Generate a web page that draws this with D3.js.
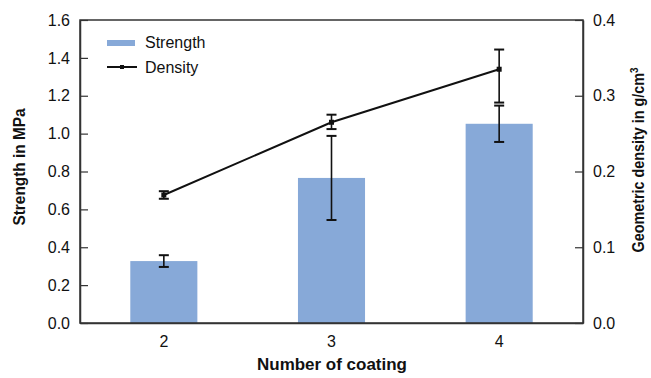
<!DOCTYPE html>
<html>
<head>
<meta charset="utf-8">
<script src="https://cdn.jsdelivr.net/npm/d3@7"></script>
<style>
  body { margin: 0; background: #fff; }
  text { font-family: "Liberation Sans", Arial, sans-serif; fill: #111; }
</style>
</head>
<body>
<script>
var coatings = ['2', '3', '4'];
var strength = [0.327, 0.766, 1.052];
var strengthErr = [0.031, 0.222, 0.096];
var density = [0.169, 0.265, 0.335];
var densityErrUp = [0.005, 0.010, 0.026];
var densityErrDown = [0.005, 0.009, 0.044];
var leftTicks = [0, 0.2, 0.4, 0.6, 0.8, 1.0, 1.2, 1.4, 1.6];
var rightTicks = [0, 0.1, 0.2, 0.3, 0.4];

var screen = { width: 651, height: 378 };
var margins = { top: 20, left: 80, bottom: 55, right: 68 };
var width = screen.width - margins.left - margins.right;
var height = screen.height - margins.top - margins.bottom;

var svg = d3.select('body')
            .append('svg')
            .attr('width', screen.width)
            .attr('height', screen.height);

var plot = svg.append('g')
              .attr('transform', 'translate(' + margins.left + ',' + margins.top + ')');

var xScale = d3.scaleBand()
               .domain(coatings)
               .range([0, width])
               .paddingInner(0.6)
               .paddingOuter(0.3);

var yLeft = d3.scaleLinear().domain([0, 1.6]).range([height, 0]);
var yRight = d3.scaleLinear().domain([0, 0.4]).range([height, 0]);

// bars
plot.selectAll('rect.bar')
    .data(strength)
    .enter()
    .append('rect')
    .classed('bar', true)
    .attr('x', function(d, i){ return xScale(coatings[i]); })
    .attr('y', function(d){ return yLeft(d); })
    .attr('width', xScale.bandwidth())
    .attr('height', function(d){ return height - yLeft(d); })
    .attr('fill', '#87a9d8');

var cx = function(i){ return xScale(coatings[i]) + xScale.bandwidth() / 2; };
var capW = 5;

var errorBars = function(lo, hi, cls){
  var g = plot.selectAll('g.' + cls)
              .data(d3.range(coatings.length))
              .enter()
              .append('g')
              .classed(cls, true)
              .attr('stroke', '#111')
              .attr('stroke-width', 1.6);
  g.append('line')
   .attr('x1', cx).attr('x2', cx)
   .attr('y1', function(i){ return lo(i); })
   .attr('y2', function(i){ return hi(i); });
  g.append('line')
   .attr('x1', function(i){ return cx(i) - capW; })
   .attr('x2', function(i){ return cx(i) + capW; })
   .attr('y1', function(i){ return lo(i); })
   .attr('y2', function(i){ return lo(i); })
   .attr('stroke-width', 2);
  g.append('line')
   .attr('x1', function(i){ return cx(i) - capW; })
   .attr('x2', function(i){ return cx(i) + capW; })
   .attr('y1', function(i){ return hi(i); })
   .attr('y2', function(i){ return hi(i); })
   .attr('stroke-width', 2);
};

errorBars(function(i){ return yLeft(strength[i] - strengthErr[i]); },
          function(i){ return yLeft(strength[i] + strengthErr[i]); }, 'serr');

// density line
var line = d3.line()
             .x(function(d, i){ return cx(i); })
             .y(function(d){ return yRight(d); });

plot.append('path')
    .datum(density)
    .attr('d', line)
    .attr('fill', 'none')
    .attr('stroke', '#111')
    .attr('stroke-width', 2);

errorBars(function(i){ return yRight(density[i] - densityErrDown[i]); },
          function(i){ return yRight(density[i] + densityErrUp[i]); }, 'derr');

plot.selectAll('rect.pt')
    .data(density)
    .enter()
    .append('rect')
    .classed('pt', true)
    .attr('x', function(d, i){ return cx(i) - 2.5; })
    .attr('y', function(d){ return yRight(d) - 2.5; })
    .attr('width', 5)
    .attr('height', 5)
    .attr('fill', '#111');

// frame
plot.append('rect')
    .attr('width', width)
    .attr('height', height)
    .attr('fill', 'none')
    .attr('stroke', '#333')
    .attr('stroke-width', 1.5);

// axes
var leftAxis = d3.axisLeft(yLeft)
                 .tickValues(leftTicks)
                 .tickFormat(d3.format('.1f'))
                 .tickSizeInner(-8)
                 .tickSizeOuter(0)
                 .tickPadding(10);
var gl = plot.append('g').call(leftAxis);

var rightAxis = d3.axisRight(yRight)
                  .tickValues(rightTicks)
                  .tickFormat(d3.format('.1f'))
                  .tickSizeInner(-8)
                  .tickSizeOuter(0)
                  .tickPadding(10);
var gr = plot.append('g').attr('transform', 'translate(' + width + ',0)').call(rightAxis);

var bottomAxis = d3.axisBottom(xScale).tickSize(0).tickPadding(13);
var gb = plot.append('g').attr('transform', 'translate(0,' + height + ')').call(bottomAxis);

[gl, gr, gb].forEach(function(g){
  g.select('.domain').attr('stroke', '#333').attr('stroke-width', 1.5);
  g.selectAll('.tick line').attr('stroke', '#333').attr('stroke-width', 1.2);
  g.selectAll('.tick text')
   .attr('font-family', '"Liberation Sans", Arial, sans-serif')
   .attr('font-size', 16)
   .attr('fill', '#111');
});

// axis titles
svg.append('text')
   .attr('x', 332)
   .attr('y', 370)
   .attr('text-anchor', 'middle')
   .attr('font-size', 16.5)
   .attr('font-weight', 'bold')
   .attr('textLength', 150)
   .attr('lengthAdjust', 'spacingAndGlyphs')
   .text('Number of coating');

svg.append('text')
   .attr('transform', 'translate(25,167) rotate(-90)')
   .attr('text-anchor', 'middle')
   .attr('font-size', 16)
   .attr('font-weight', 'bold')
   .attr('textLength', 117)
   .attr('lengthAdjust', 'spacingAndGlyphs')
   .text('Strength in MPa');

var rt = svg.append('text')
   .attr('transform', 'translate(644,160) rotate(-90)')
   .attr('text-anchor', 'middle')
   .attr('font-size', 16)
   .attr('font-weight', 'bold')
   .attr('textLength', 185)
   .attr('lengthAdjust', 'spacingAndGlyphs');
rt.append('tspan').text('Geometric density in g/cm');
rt.append('tspan').attr('font-size', 11).attr('dy', -6).text('3');

// legend
var legend = svg.append('g').attr('transform', 'translate(107,0)');
legend.append('rect')
      .attr('x', 0).attr('y', 40)
      .attr('width', 28).attr('height', 6)
      .attr('fill', '#87a9d8');
legend.append('text')
      .attr('x', 38).attr('y', 48)
      .attr('font-size', 16)
      .text('Strength');
legend.append('line')
      .attr('x1', 0).attr('x2', 30)
      .attr('y1', 67).attr('y2', 67)
      .attr('stroke', '#111').attr('stroke-width', 2);
legend.append('rect')
      .attr('x', 13).attr('y', 65)
      .attr('width', 4).attr('height', 4)
      .attr('fill', '#111');
legend.append('text')
      .attr('x', 38).attr('y', 73)
      .attr('font-size', 16)
      .text('Density');
</script>
</body>
</html>
